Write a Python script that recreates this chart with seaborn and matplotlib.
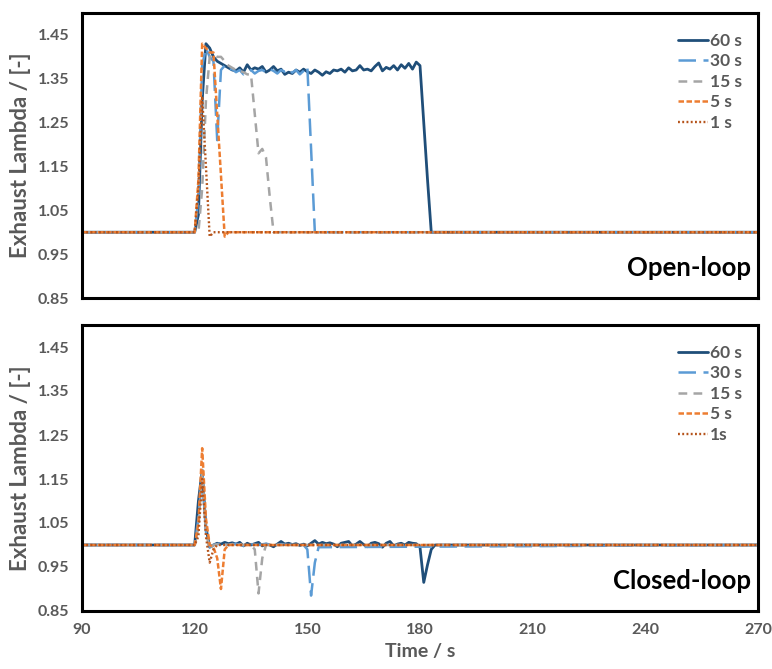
import matplotlib
matplotlib.use("Agg")
import matplotlib.pyplot as plt
import seaborn as sns
import pandas as pd

# ---------------- data ----------------
series_names = ["60 s", "30 s", "15 s", "5 s", "1 s"]
legend_open = ["60 s", "30 s", "15 s", "5 s", "1 s"]
legend_closed = ["60 s", "30 s", "15 s", "5 s", "1s"]
x_ticks = [90, 120, 150, 180, 210, 240, 270]
y_ticks = [0.85, 0.95, 1.05, 1.15, 1.25, 1.35, 1.45]

# Open-loop
ol_60_t = [90, 120, 121, 122, 123, 124, 125, 126, 127, 128, 129, 130, 131, 132, 133, 134, 135, 136, 137, 138, 139,
           140, 141, 142, 143, 144, 145, 146, 147, 148, 149, 150, 151, 152, 153, 154, 155, 156, 157, 158, 159,
           160, 161, 162, 163, 164, 165, 166, 167, 168, 169, 170, 171, 172, 173, 174, 175, 176, 177, 178, 179,
           180, 181, 182, 183, 184, 270]
ol_60_v = [1.0, 1.0, 1.04, 1.30, 1.43, 1.42, 1.40, 1.39, 1.385, 1.38, 1.375, 1.37, 1.368, 1.375, 1.365, 1.382,
           1.37, 1.375, 1.372, 1.378, 1.365, 1.37, 1.378, 1.368, 1.372, 1.36, 1.365, 1.362, 1.37, 1.365, 1.372,
           1.366, 1.362, 1.37, 1.365, 1.358, 1.366, 1.362, 1.37, 1.368, 1.372, 1.365, 1.375, 1.368, 1.37, 1.38,
           1.37, 1.372, 1.368, 1.378, 1.386, 1.368, 1.376, 1.372, 1.38, 1.37, 1.382, 1.374, 1.385, 1.372, 1.388,
           1.38, 1.25, 1.12, 1.0, 1.0, 1.0]
ol_30_t = [90, 120, 121, 122, 123, 124, 125, 126, 127, 128, 129, 130, 131, 132, 133, 134, 135, 136, 137, 138, 139,
           140, 141, 142, 143, 144, 145, 146, 147, 148, 149, 150, 151, 152, 153, 270]
ol_30_v = [1.0, 1.0, 1.08, 1.38, 1.42, 1.40, 1.39, 1.21, 1.37, 1.38, 1.37, 1.372, 1.365, 1.37, 1.36, 1.365, 1.37,
           1.362, 1.368, 1.37, 1.365, 1.372, 1.368, 1.362, 1.37, 1.366, 1.372, 1.364, 1.37, 1.36, 1.368, 1.378,
           1.19, 1.0, 1.0, 1.0]
ol_15_t = [90, 121, 122, 123, 124, 125, 126, 127, 128, 129, 130, 131, 132, 133, 134, 135, 136, 137, 138, 139, 140,
           141, 270]
ol_15_v = [1.0, 1.0, 1.10, 1.30, 1.40, 1.405, 1.40, 1.40, 1.39, 1.38, 1.375, 1.37, 1.368, 1.365, 1.36, 1.36, 1.27,
           1.18, 1.19, 1.17, 1.08, 1.0, 1.0]
ol_5_t = [90, 120, 121, 122, 123, 124, 125, 126, 127, 128, 129, 270]
ol_5_v = [1.0, 1.0, 1.12, 1.43, 1.42, 1.41, 1.41, 1.27, 1.13, 0.99, 1.0, 1.0]
ol_1_t = [90, 120, 121, 122, 123, 124, 125, 270]
ol_1_v = [1.0, 1.0, 1.10, 1.31, 1.15, 0.99, 1.0, 1.0]

# Closed-loop
cl_60_t = [90, 120, 121, 122, 123, 124, 125, 126, 127, 128, 129, 130, 131, 132, 133, 134, 135, 136, 137, 138, 139,
           140, 141, 142, 143, 144, 145, 146, 147, 148, 149, 150, 151, 152, 153, 154, 155, 156, 157, 158, 159,
           160, 161, 162, 163, 164, 165, 166, 167, 168, 169, 170, 171, 172, 173, 174, 175, 176, 177, 178, 179,
           180, 181, 182, 183, 184, 270]
cl_60_v = [1.0, 1.0, 1.10, 1.17, 1.04, 0.995, 1.0, 1.004, 1.002, 1.006, 1.003, 1.005, 1.002, 1.006, 0.998, 1.004,
           1.0, 1.003, 1.006, 0.998, 1.002, 1.0, 0.996, 1.002, 1.008, 1.002, 1.004, 1.001, 1.003, 0.999, 1.002,
           0.998, 1.004, 1.010, 1.002, 1.006, 1.003, 1.005, 1.002, 0.996, 1.004, 1.006, 1.008, 0.998, 1.002,
           1.008, 1.001, 0.996, 1.004, 1.006, 1.003, 0.995, 1.004, 1.008, 0.998, 1.002, 1.004, 1.0, 1.006, 1.004,
           1.003, 0.995, 0.915, 0.955, 0.99, 1.0, 1.0]
cl_30_t = [90, 120, 121, 122, 123, 124, 125, 127, 129, 131, 133, 135, 137, 139, 141, 143, 145, 147, 149, 150, 151,
           152, 153, 270]
cl_30_v = [1.0, 1.0, 1.06, 1.16, 1.03, 0.995, 1.0, 1.004, 1.0, 1.003, 0.998, 1.002, 1.0, 1.003, 0.999, 1.002, 1.0,
           1.002, 1.0, 0.99, 0.885, 0.96, 0.995, 1.0]
cl_15_t = [90, 120, 121, 122, 123, 124, 125, 127, 129, 131, 133, 135, 136, 137, 138, 139, 270]
cl_15_v = [1.0, 1.0, 1.04, 1.17, 1.03, 0.99, 1.0, 1.003, 1.0, 1.004, 1.0, 1.0, 0.99, 0.89, 0.97, 1.0, 1.0]
cl_5_t = [90, 120, 121, 122, 123, 124, 125, 126, 127, 128, 129, 270]
cl_5_v = [1.0, 1.0, 1.05, 1.22, 1.06, 1.0, 0.995, 0.97, 0.90, 0.99, 1.0, 1.0]
cl_1_t = [90, 120, 121, 122, 123, 124, 125, 126, 270]
cl_1_v = [1.0, 1.0, 1.02, 1.15, 1.02, 0.96, 0.99, 1.0, 1.0]

open_series = [(ol_60_t, ol_60_v), (ol_30_t, ol_30_v), (ol_15_t, ol_15_v), (ol_5_t, ol_5_v), (ol_1_t, ol_1_v)]
closed_series = [(cl_60_t, cl_60_v), (cl_30_t, cl_30_v), (cl_15_t, cl_15_v), (cl_5_t, cl_5_v), (cl_1_t, cl_1_v)]

# ---------------- style ----------------
colors = ["#1F4E79", "#5B9BD5", "#A5A5A5", "#ED7D31", "#B5531A"]
dashes = [None, (7, 3), (3.5, 2.5), (2.2, 1.0), (0.8, 1.0)]
widths = [2.0, 1.8, 1.8, 1.8, 1.7]

sns.set_style("white")
plt.rcParams["font.family"] = ["Lato", "DejaVu Sans"]
grey = "#595959"

fig = plt.figure(figsize=(7.72, 6.69), dpi=100)
ax_top = fig.add_axes([82 / 772, 1 - 298 / 669, 676 / 772, 285 / 669])
ax_bot = fig.add_axes([82 / 772, 1 - 611 / 669, 676 / 772, 286 / 669])


def draw(ax, series, labels, title, show_x):
    handles = []
    for (t, v), lab, c, d, w in zip(series, labels, colors, dashes, widths):
        df = pd.DataFrame({"t": t, "v": v})
        sns.lineplot(data=df, x="t", y="v", ax=ax, color=c, lw=w, estimator=None, sort=False, label=lab)
        line = ax.get_lines()[-1]
        if d is not None:
            line.set_dashes(d)
        handles.append(line)
    ax.set_xlim(90, 270)
    ax.set_ylim(0.85, 1.50)
    ax.set_yticks(y_ticks)
    ax.set_yticklabels([f"{y:.2f}" for y in y_ticks], fontsize=11.5, fontweight="bold", color=grey)
    ax.set_xticks(x_ticks)
    if show_x:
        ax.set_xticklabels([str(x) for x in x_ticks], fontsize=11.5, fontweight="bold", color=grey)
        ax.set_xlabel("Time / s", fontsize=14, fontweight="bold", color=grey, labelpad=4)
    else:
        ax.set_xticklabels([])
        ax.set_xlabel("")
    ax.tick_params(axis="both", length=0, pad=9)
    ax.set_ylabel("Exhaust Lambda / [-]", fontsize=16, fontweight="bold", color=grey, labelpad=5)
    for s in ax.spines.values():
        s.set_visible(True)
        s.set_color("black")
        s.set_linewidth(2.2)
    leg = ax.legend(handles=handles, labels=labels, loc="upper right", bbox_to_anchor=(1.0, 0.985),
                    frameon=False, handlelength=1.75, handletextpad=0.12, labelspacing=0.26,
                    prop={"weight": "bold", "size": 12.5})
    for txt in leg.get_texts():
        txt.set_color(grey)
    ax.text(0.99, 0.105, title, transform=ax.transAxes, ha="right", va="center",
            fontsize=18.5, fontweight="bold", color="black")


draw(ax_top, open_series, legend_open, "Open-loop", False)
draw(ax_bot, closed_series, legend_closed, "Closed-loop", True)

fig.savefig("out.png", dpi=100)
